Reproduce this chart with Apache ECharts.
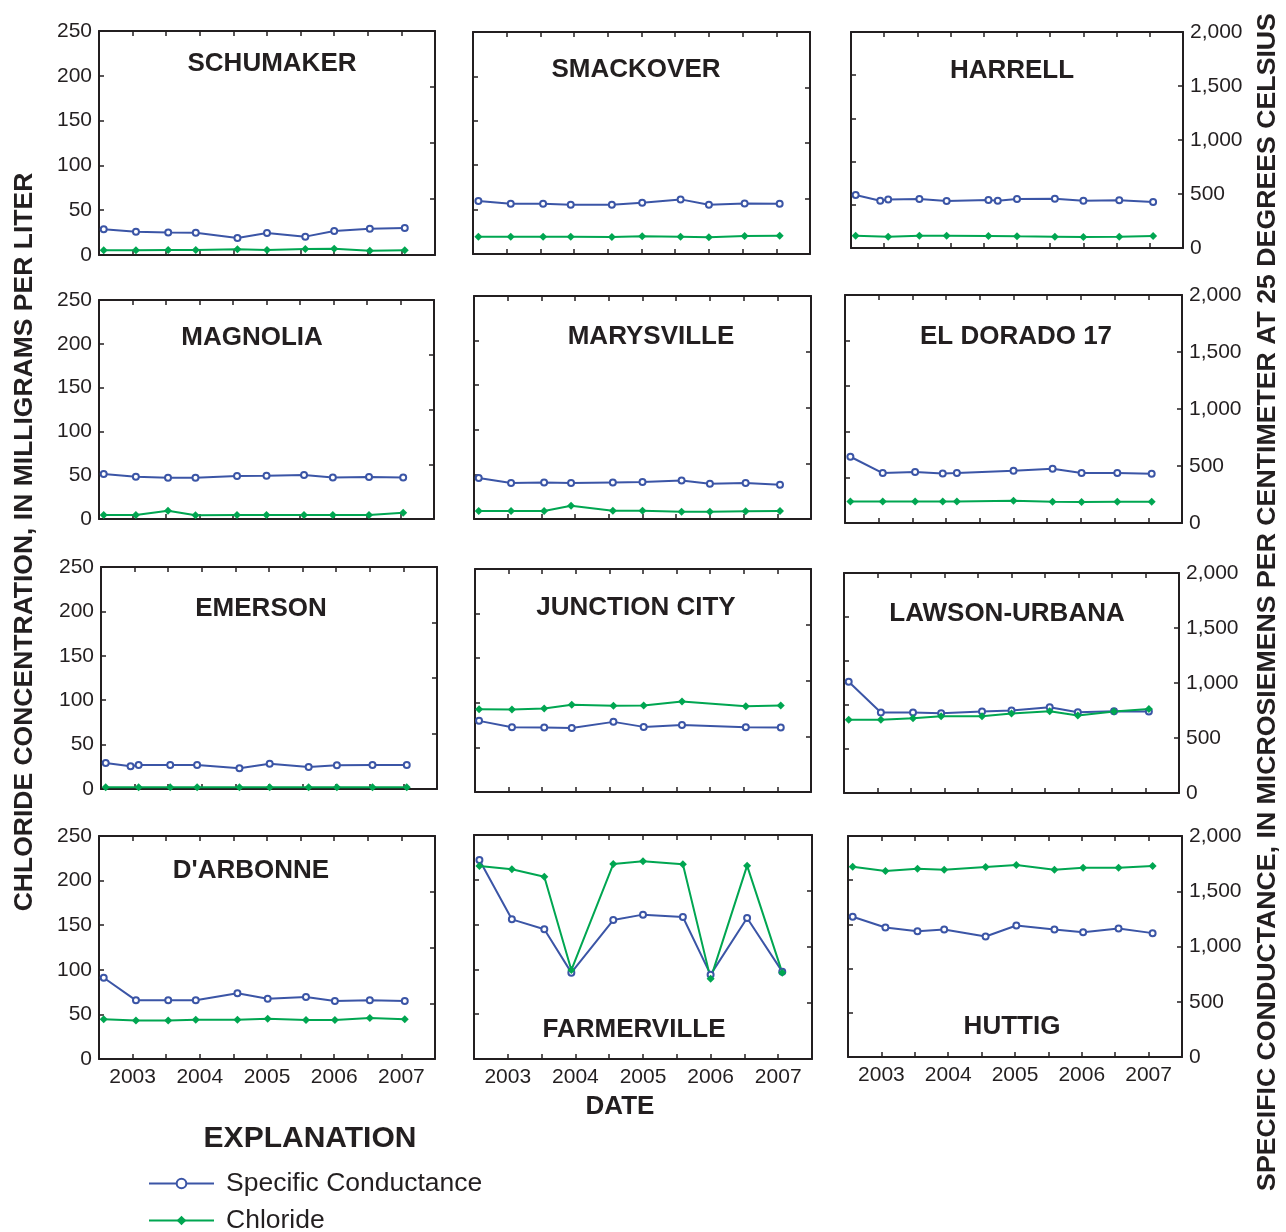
<!DOCTYPE html>
<html lang="en">
<head>
<meta charset="UTF-8">
<title>Chloride and specific conductance, 2002-2007</title>
<script src="https://cdn.jsdelivr.net/npm/echarts@6/dist/echarts.min.js"></script>
</head>
<body style="margin:0;background:#fff">
<div id="main" style="width:1286px;height:1232px"></div>
<script>
// site names, in reading order (3 columns x 4 rows)
const sites = ['SCHUMAKER', 'SMACKOVER', 'HARRELL', 'MAGNOLIA', 'MARYSVILLE', 'EL DORADO 17',
    'EMERSON', 'JUNCTION CITY', 'LAWSON-URBANA', "D'ARBONNE", 'FARMERVILLE', 'HUTTIG'];

// sample dates as decimal years, specific conductance (microsiemens/cm)
const scDates = [
    [2002.57, 2003.05, 2003.53, 2003.94, 2004.56, 2005.00, 2005.57, 2006.00, 2006.53, 2007.05],
    [2002.58, 2003.06, 2003.54, 2003.95, 2004.56, 2005.01, 2005.58, 2006.00, 2006.53, 2007.05],
    [2002.57, 2002.94, 2003.06, 2003.53, 2003.94, 2004.57, 2004.71, 2005.00, 2005.57, 2006.00, 2006.54, 2007.05],
    [2002.57, 2003.05, 2003.53, 2003.94, 2004.56, 2005.00, 2005.56, 2005.99, 2006.53, 2007.04],
    [2002.57, 2003.05, 2003.54, 2003.94, 2004.56, 2005.00, 2005.58, 2006.00, 2006.53, 2007.04],
    [2002.58, 2003.06, 2003.54, 2003.95, 2004.16, 2005.00, 2005.58, 2006.01, 2006.54, 2007.05],
    [2002.57, 2002.94, 2003.06, 2003.53, 2003.93, 2004.56, 2005.01, 2005.59, 2006.01, 2006.54, 2007.05],
    [2002.56, 2003.05, 2003.53, 2003.94, 2004.56, 2005.01, 2005.58, 2006.53, 2007.05],
    [2002.57, 2003.05, 2003.53, 2003.95, 2004.56, 2005.00, 2005.57, 2005.99, 2006.53, 2007.05],
    [2002.57, 2003.05, 2003.53, 2003.94, 2004.56, 2005.01, 2005.58, 2006.01, 2006.53, 2007.05],
    [2002.58, 2003.06, 2003.54, 2003.94, 2004.56, 2005.00, 2005.59, 2006.00, 2006.54, 2007.06],
    [2002.57, 2003.06, 2003.54, 2003.94, 2004.56, 2005.02, 2005.59, 2006.02, 2006.55, 2007.06]
];
const scValues = [
    [229, 208, 202, 199, 152, 196, 164, 214, 235, 241],
    [477, 453, 453, 444, 444, 462, 492, 444, 456, 453],
    [491, 438, 448, 454, 435, 444, 438, 454, 457, 438, 441, 426],
    [410, 386, 377, 377, 392, 395, 401, 380, 383, 380],
    [367, 322, 328, 322, 328, 331, 346, 316, 322, 307],
    [581, 438, 447, 435, 438, 458, 476, 438, 438, 432],
    [234, 204, 216, 216, 216, 186, 228, 198, 213, 216, 216],
    [638, 581, 578, 575, 629, 584, 602, 581, 578],
    [1012, 731, 731, 725, 740, 749, 779, 734, 743, 740],
    [729, 526, 526, 526, 589, 541, 556, 520, 526, 520],
    [1777, 1247, 1158, 771, 1241, 1289, 1268, 753, 1259, 780],
    [1269, 1172, 1139, 1154, 1091, 1190, 1154, 1130, 1163, 1121]
];

// sample dates and chloride (milligrams per liter)
const clDates = [
    [2002.57, 2003.05, 2003.53, 2003.94, 2004.56, 2005.00, 2005.57, 2006.00, 2006.53, 2007.05],
    [2002.58, 2003.06, 2003.54, 2003.95, 2004.56, 2005.01, 2005.58, 2006.00, 2006.53, 2007.05],
    [2002.57, 2003.06, 2003.53, 2003.94, 2004.57, 2005.00, 2005.57, 2006.00, 2006.54, 2007.05],
    [2002.57, 2003.05, 2003.53, 2003.94, 2004.56, 2005.00, 2005.56, 2005.99, 2006.53, 2007.04],
    [2002.57, 2003.05, 2003.54, 2003.94, 2004.56, 2005.00, 2005.58, 2006.00, 2006.53, 2007.04],
    [2002.58, 2003.06, 2003.54, 2003.95, 2004.16, 2005.00, 2005.58, 2006.01, 2006.54, 2007.05],
    [2002.57, 2003.06, 2003.53, 2003.93, 2004.56, 2005.01, 2005.59, 2006.01, 2006.54, 2007.05],
    [2002.56, 2003.05, 2003.53, 2003.94, 2004.56, 2005.01, 2005.58, 2006.53, 2007.05],
    [2002.57, 2003.05, 2003.53, 2003.95, 2004.56, 2005.00, 2005.57, 2005.99, 2006.53, 2007.05],
    [2002.57, 2003.05, 2003.53, 2003.94, 2004.56, 2005.01, 2005.58, 2006.01, 2006.53, 2007.05],
    [2002.58, 2003.06, 2003.54, 2003.94, 2004.56, 2005.00, 2005.59, 2006.00, 2006.54, 2007.06],
    [2002.57, 2003.06, 2003.54, 2003.94, 2004.56, 2005.02, 2005.59, 2006.02, 2006.55, 2007.06]
];
const clValues = [
    [5.2, 5.2, 5.6, 5.6, 6.3, 5.6, 6.7, 7.1, 4.8, 5.2],
    [19.5, 19.5, 19.5, 19.5, 19.1, 19.9, 19.5, 18.8, 20.3, 20.6],
    [14.3, 13.1, 14.3, 14.3, 13.9, 13.5, 13.1, 12.7, 13.1, 13.9],
    [4.6, 4.6, 9.5, 4.2, 4.6, 4.6, 4.6, 4.6, 4.6, 7.2],
    [8.9, 8.9, 8.9, 14.9, 9.3, 9.3, 8.2, 8.2, 8.6, 8.9],
    [23.7, 23.7, 23.7, 23.7, 23.7, 24.5, 23.4, 23.0, 23.4, 23.4],
    [2, 2, 2, 2, 2, 2, 2, 2, 2, 2],
    [92.8, 92.4, 93.6, 97.7, 96.6, 96.9, 101.4, 96.2, 96.9],
    [83.1, 83.1, 85.0, 87.2, 87.2, 90.3, 92.9, 88.0, 92.5, 95.5],
    [44.5, 43.3, 43.3, 44.1, 44.1, 45.2, 43.7, 43.7, 46.0, 44.5],
    [215.4, 211.7, 203.5, 99.3, 217.6, 220.6, 217.3, 89.7, 215.8, 96.4],
    [215.3, 210.3, 213.0, 211.9, 214.9, 217.1, 211.9, 214.1, 214.1, 216.0]
];

// panel frames [left, top, right, bottom] and site label centre [x, y]
const frames = [
    [99, 31, 435, 255], [473, 32, 810, 254], [851, 32, 1183, 248],
    [99, 300, 434, 519], [474, 296, 811, 519], [845, 295, 1182, 523],
    [101, 567, 437, 789], [475, 569, 811, 792], [844, 573, 1179, 793],
    [99, 836, 435, 1059], [474, 835, 812, 1059], [848, 836, 1182, 1057]
];
const labelPos = [
    [272, 64], [636, 70], [1012, 71],
    [252, 338], [651, 337], [1016, 337],
    [261, 609], [636, 608], [1007, 614],
    [251, 871], [634, 1030], [1012, 1027]
];

const ink = '#231f20';
const blue = '#3b55a6';
const green = '#00a651';
const font = '"Liberation Sans", Arial, sans-serif';

const chart = echarts.init(document.getElementById('main'));

const grid = [], xAxis = [], yAxis = [], series = [], graphic = [];

function axisBase(extra) {
    return Object.assign({
        type: 'value',
        axisLine: { show: true, onZero: false, lineStyle: { color: ink, width: 2 } },
        axisTick: { show: true, inside: true, length: 5, lineStyle: { color: ink, width: 1.5 } },
        splitLine: { show: false }
    }, extra);
}

sites.forEach((name, i) => {
    const f = frames[i];
    const col = i % 3, row = Math.floor(i / 3);
    grid.push({ left: f[0], top: f[1], width: f[2] - f[0], height: f[3] - f[1] });

    const xLabel = {
        show: row === 3, fontSize: 21, color: ink, margin: 8, fontFamily: font,
        formatter: v => Number.isInteger(v) ? String(v) : ''
    };
    xAxis.push(axisBase({ gridIndex: i, min: 2002.5, max: 2007.5, interval: 0.5, position: 'bottom', axisLabel: xLabel }));
    xAxis.push(axisBase({ gridIndex: i, min: 2002.5, max: 2007.5, interval: 0.5, position: 'top', axisLabel: { show: false } }));

    yAxis.push(axisBase({
        gridIndex: i, min: 0, max: 250, interval: 50, position: 'left',
        axisLabel: { show: col === 0, fontSize: 21, color: ink, margin: 7, fontFamily: font }
    }));
    yAxis.push(axisBase({
        gridIndex: i, min: 0, max: 2000, interval: 500, position: 'right',
        axisLabel: {
            show: col === 2, fontSize: 21, color: ink, margin: 7, fontFamily: font,
            formatter: v => v.toLocaleString('en-US')
        }
    }));

    series.push({
        name: 'Specific Conductance', type: 'line',
        xAxisIndex: 2 * i, yAxisIndex: 2 * i + 1,
        data: scDates[i].map((d, k) => [d, scValues[i][k]]),
        symbol: 'emptyCircle', symbolSize: 6,
        lineStyle: { color: blue, width: 2 },
        itemStyle: { color: blue, borderColor: blue, borderWidth: 1.6 },
        animation: false
    });
    series.push({
        name: 'Chloride', type: 'line',
        xAxisIndex: 2 * i, yAxisIndex: 2 * i,
        data: clDates[i].map((d, k) => [d, clValues[i][k]]),
        symbol: 'diamond', symbolSize: 8,
        lineStyle: { color: green, width: 2 },
        itemStyle: { color: green },
        animation: false
    });

    graphic.push({
        type: 'text', x: labelPos[i][0], y: labelPos[i][1],
        style: { text: name, font: 'bold 26px ' + font, fill: ink, textAlign: 'center', textVerticalAlign: 'middle' }
    });
});

graphic.push(
    {
        type: 'text', x: 25, y: 542, rotation: Math.PI / 2,
        style: { text: 'CHLORIDE CONCENTRATION, IN MILLIGRAMS PER LITER', font: 'bold 26.5px ' + font, fill: ink, textAlign: 'center', textVerticalAlign: 'middle' }
    },
    {
        type: 'text', x: 1268, y: 602, rotation: Math.PI / 2,
        style: { text: 'SPECIFIC CONDUCTANCE, IN MICROSIEMENS PER CENTIMETER AT 25 DEGREES CELSIUS', font: 'bold 26.7px ' + font, fill: ink, textAlign: 'center', textVerticalAlign: 'middle' }
    },
    {
        type: 'text', x: 620, y: 1107,
        style: { text: 'DATE', font: 'bold 26px ' + font, fill: ink, textAlign: 'center', textVerticalAlign: 'middle' }
    },
    {
        type: 'text', x: 310, y: 1139,
        style: { text: 'EXPLANATION', font: 'bold 30px ' + font, fill: ink, textAlign: 'center', textVerticalAlign: 'middle' }
    }
);

chart.setOption({
    animation: false,
    textStyle: { fontFamily: font },
    grid: grid,
    xAxis: xAxis,
    yAxis: yAxis,
    series: series,
    graphic: graphic,
    legend: {
        orient: 'vertical', left: 148, top: 1170, height: 100, padding: 0,
        itemWidth: 65, itemHeight: 12, itemGap: 10,
        data: ['Specific Conductance', 'Chloride'],
        textStyle: { fontSize: 26.5, color: ink, padding: [0, 0, 0, 7] }
    }
});
</script>
</body>
</html>
